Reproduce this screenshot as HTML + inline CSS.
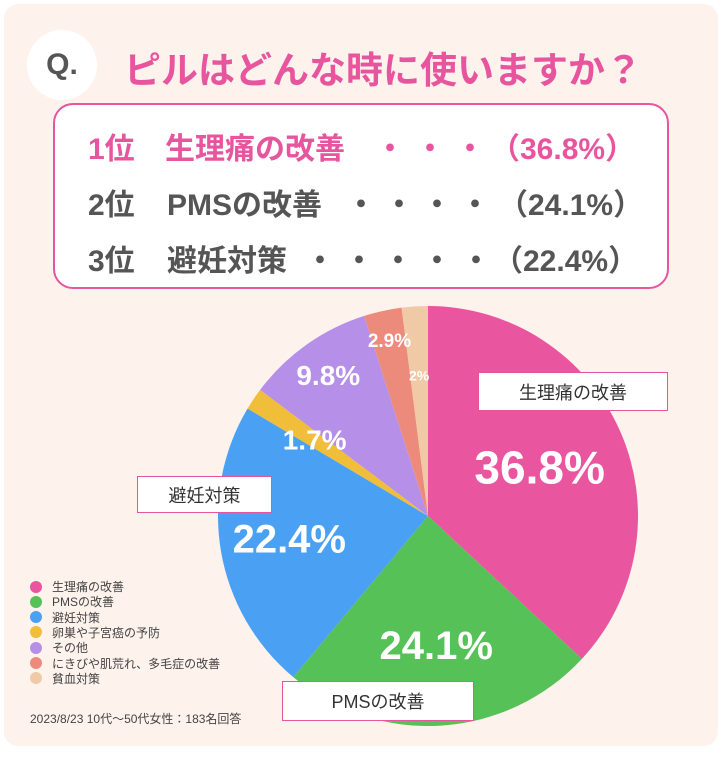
<!DOCTYPE html>
<html><head><meta charset="utf-8"><style>
body{margin:0;width:723px;height:770px;background:#fff;font-family:"Liberation Sans","Noto Sans CJK JP",sans-serif;position:relative;overflow:hidden}
.card{position:absolute;left:4px;top:4px;width:714px;height:742px;background:#fdf2ec;border-radius:14px}
.abs{position:absolute}
.row{position:absolute;left:0;top:0;font-size:30px;font-weight:bold;color:#555;white-space:nowrap}
.row span{position:absolute;top:0;white-space:nowrap}
.lbl{position:absolute;background:#fff;border:1.5px solid #e8559f;font-size:18px;color:#333;display:flex;align-items:center;justify-content:center}
.leg{position:absolute;left:30px;font-size:12px;color:#444;display:flex;align-items:center;height:15px}
.leg i{width:12px;height:12px;border-radius:50%;margin-right:10px;display:inline-block}
</style></head><body>
<div class="card"></div>
<div class="abs" style="left:27px;top:30px;width:70px;height:70px;border-radius:50%;background:#fff;font-size:30px;font-weight:bold;color:#555;display:flex;align-items:center;justify-content:center">Q.</div>
<div class="abs" style="left:124px;top:40px;font-size:37px;font-weight:bold;color:#e8559f;white-space:nowrap">ピルはどんな時に使いますか？</div>
<div class="abs" style="left:53px;top:103px;width:612px;height:182px;background:#fff;border:2px solid #e8559f;border-radius:20px"></div>
<div class="row" style="top:124px;color:#e8559f"><span style="left:88px">1位</span><span style="left:165px">生理痛の改善</span><span style="left:375px;letter-spacing:10px">・・・</span><span style="left:490px">（36.8%）</span></div>
<div class="row" style="top:180px"><span style="left:88px">2位</span><span style="left:167px">PMSの改善</span><span style="left:346px;letter-spacing:8px">・・・・</span><span style="left:498px">（24.1%）</span></div>
<div class="row" style="top:236px"><span style="left:88px">3位</span><span style="left:167px">避妊対策</span><span style="left:305px;letter-spacing:9px">・・・・・</span><span style="left:493px">（22.4%）</span></div>
<svg class="abs" style="left:0;top:0" width="723" height="770" id="pie"></svg>
<div class="lbl" style="left:478px;top:372px;width:188px;height:37px">生理痛の改善</div>
<div class="lbl" style="left:137px;top:476px;width:133px;height:35px">避妊対策</div>
<div class="lbl" style="left:282px;top:681px;width:190px;height:38px">PMSの改善</div>
<div id="legend"></div>
<div class="abs" style="left:30px;top:710px;font-size:12px;color:#444">2023/8/23 10代〜50代女性：183名回答</div>
<script>
const categories=["生理痛の改善","PMSの改善","避妊対策","卵巣や子宮癌の予防","その他","にきびや肌荒れ、多毛症の改善","貧血対策"];
const values=[36.8,24.1,22.4,1.7,9.8,2.9,2];
const valueLabels=["36.8%","24.1%","22.4%","1.7%","9.8%","2.9%","2%"];
const colors=["#ea559f","#55c157","#4aa1f3","#f1be3a","#b68fe8","#ec8b7c","#f0c9a6"];
const fontSizes=[46,40,40,28,28,19,14];
const radFrac=[0.58,0.62,0.67,0.65,0.82,0.85,0.67];
const cx=428,cy=516,R=210;
const svg=document.getElementById('pie');const NS="http://www.w3.org/2000/svg";
const total=values.reduce((a,b)=>a+b,0);
let a=0;
function pt(ang,r){return [cx+r*Math.sin(ang),cy-r*Math.cos(ang)];}
values.forEach((v,i)=>{
 const a0=a,a1=a+v/total*2*Math.PI;a=a1;
 const p0=pt(a0,R),p1=pt(a1,R);
 const p=document.createElementNS(NS,'path');
 p.setAttribute('d',`M${cx},${cy}L${p0[0]},${p0[1]}A${R},${R} 0 ${a1-a0>Math.PI?1:0} 1 ${p1[0]},${p1[1]}Z`);
 p.setAttribute('fill',colors[i]);
 
 
 svg.appendChild(p);
});
a=0;
values.forEach((v,i)=>{
 const a0=a,a1=a+v/total*2*Math.PI;a=a1;
 const m=pt((a0+a1)/2,R*radFrac[i]);
 const t=document.createElementNS(NS,'text');
 t.setAttribute('x',m[0]);t.setAttribute('y',m[1]);
 t.setAttribute('text-anchor','middle');t.setAttribute('dominant-baseline','central');
 t.setAttribute('fill','#fff');t.setAttribute('font-weight','bold');t.setAttribute('font-size',fontSizes[i]);
 t.setAttribute('font-family','"Liberation Sans",sans-serif');
 t.textContent=valueLabels[i];
 
 
 svg.appendChild(t);
});
const leg=document.getElementById('legend');
categories.forEach((c,i)=>{
 const d=document.createElement('div');d.className='leg';d.style.top=(579+i*15.3)+'px';
 d.innerHTML=`<i style="background:${colors[i]}"></i>${c}`;
 
 
 leg.appendChild(d);
});
</script>
</body></html>
